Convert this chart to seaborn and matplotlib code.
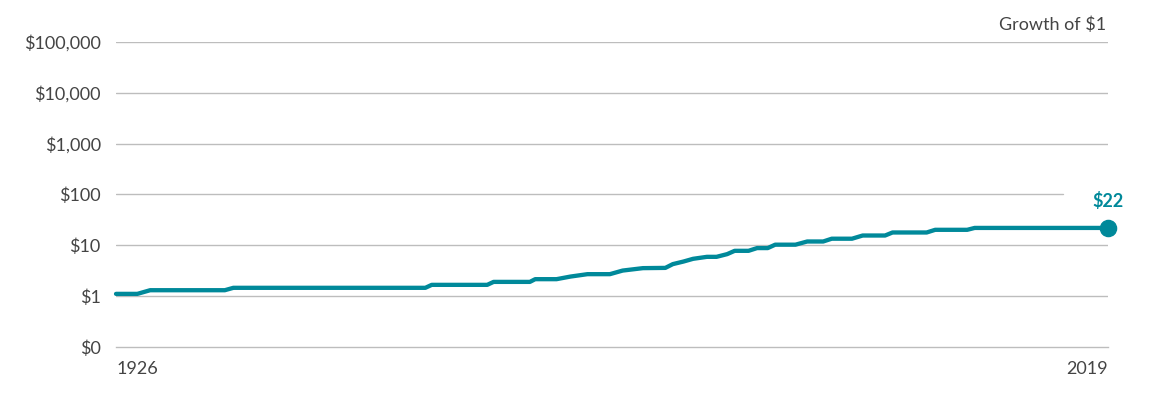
import seaborn as sns
import matplotlib.pyplot as plt
import pandas as pd

# growth of $1 (year, dollars)
anos = [1926, 1928, 1929.2, 1936.2, 1937, 1955, 1955.6, 1960.8, 1961.4, 1964.8,
        1965.3, 1967.3, 1968.6, 1970.2, 1972.3, 1973.5, 1975.4, 1977.5, 1978.2,
        1979.2, 1980.1, 1981.4, 1982.3, 1983.3, 1984, 1985.3, 1986.1, 1987.1,
        1987.8, 1989.7, 1990.8, 1992.3, 1993.1, 1995, 1996, 1998.1, 1998.8,
        2002, 2002.8, 2005.8, 2006.5, 2019]
valores = [1.11, 1.11, 1.31, 1.31, 1.46, 1.46, 1.67, 1.67, 1.91, 1.91,
           2.16, 2.16, 2.43, 2.71, 2.71, 3.19, 3.56, 3.6, 4.27,
           4.8, 5.43, 5.94, 5.94, 6.72, 7.8, 7.8, 8.83, 8.83,
           10.3, 10.3, 11.9, 11.9, 13.5, 13.5, 15.6, 15.6, 17.9,
           17.9, 20.2, 20.2, 22, 22]

niveis = [0.1, 1, 10, 100, 1000, 10000, 100000]
rotulos_y = ['$0', '$1', '$10', '$100', '$1,000', '$10,000', '$100,000']
anos_ticks = [1930, 1940, 1950, 1960, 1970, 1980, 1990, 2000, 2010]
valor_final = 22

cor = '#00899A'
cinza = '#BDBDBD'
texto = '#444444'

sns.set_style('white')
plt.rcParams['font.family'] = ['Lato', 'DejaVu Sans']

df = pd.DataFrame({'Ano': anos, 'Valor': valores})

fig = plt.figure(figsize=(11.59, 3.96), dpi=100)
ax = fig.add_axes([0.1001, 0.1237, 0.8559, 0.7703])

for v in niveis[1:]:
    xmax = 0.955 if v == 100 else 1
    ax.axhline(v, xmin=0, xmax=xmax, color=cinza, lw=1, zorder=1)

sns.lineplot(data=df, x='Ano', y='Valor', ax=ax, color=cor, lw=3.1,
             zorder=3, clip_on=False)
ax.scatter([2019], [valor_final], s=135, color=cor, zorder=4, clip_on=False)
ax.annotate(f'${valor_final}', (2019, valor_final), xytext=(0, 19.5),
            textcoords='offset points', ha='center', va='center',
            color=cor, fontsize=13, fontweight='bold')

ax.set_yscale('log')
ax.set_ylim(0.1, 100000)
ax.set_xlim(1926, 2019)
ax.set_yticks(niveis)
ax.set_yticklabels(rotulos_y)
ax.minorticks_off()
ax.tick_params(axis='y', length=0, pad=11, labelsize=13, labelcolor=texto)

ax.set_xticks([1926, 2019])
ax.set_xticklabels(['1926', '2019'])
ax.get_xticklabels()[0].set_horizontalalignment('left')
ax.get_xticklabels()[1].set_horizontalalignment('right')
ax.set_xticks(anos_ticks, minor=True)
ax.tick_params(axis='x', which='major', length=0, pad=10, labelsize=13,
               labelcolor=texto)
ax.tick_params(axis='x', which='minor', length=5, width=1, color=cinza,
               direction='out')

for s in ['top', 'right', 'left']:
    ax.spines[s].set_visible(False)
ax.spines['bottom'].set_color(cinza)
ax.spines['bottom'].set_linewidth(1)

ax.set_xlabel('')
ax.set_ylabel('')
fig.text(0.954, 0.937, 'Growth of $1', ha='right', va='center',
         fontsize=13, color=texto)

fig.savefig('out.png', dpi=100)
